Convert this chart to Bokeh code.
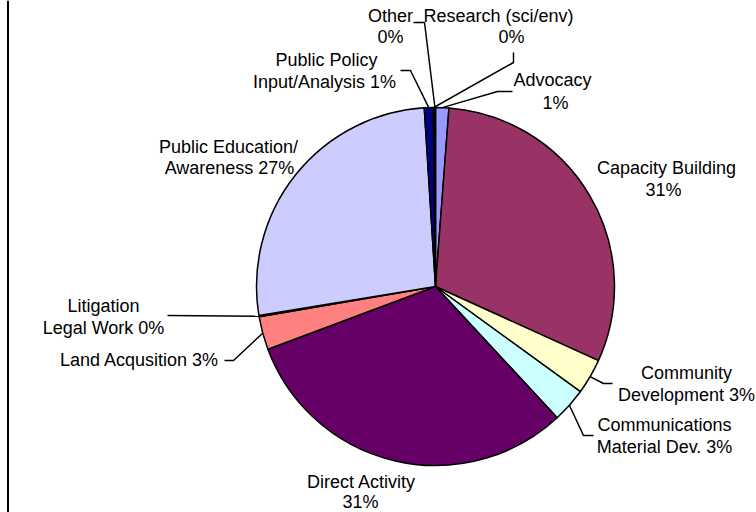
import math
from bokeh.plotting import figure
from bokeh.models import Range1d, ColumnDataSource
from bokeh.core.properties import value
from bokeh.embed import file_html
from bokeh.resources import INLINE

# ---- data ----
categories = ["Advocacy", "Capacity Building", "Community Development",
              "Communications Material Dev.", "Direct Activity", "Land Acqusition",
              "Litigation Legal Work", "Public Education/Awareness",
              "Public Policy Input/Analysis", "Research (sci/env)", "Other"]
shares = [1.2, 30.6, 3.2, 3.1, 31.2, 3.0, 0.1, 26.6, 0.8, 0.1, 0.1]
colors = ["#9999FF", "#993366", "#FFFFCC", "#CCFFFF", "#660066", "#FF8080",
          "#0066CC", "#CCCCFF", "#000080", "#FF00FF", "#FFFF00"]
# label line breaks; percentage appended to the last line
label_lines = [["Advocacy", ""], ["Capacity Building", ""], ["Community", "Development "],
               ["Communications", "Material Dev. "], ["Direct Activity", ""],
               ["Land Acqusition "], ["Litigation", "Legal Work "],
               ["Public Education/", "Awareness "], ["Public Policy", "Input/Analysis "],
               ["Research (sci/env)", ""], ["Other", ""]]

# ---- layout (pixels in plot space, y up) ----
W, H = 756, 512
CX, CY, R = 435, 226, 179
FONT = value("Liberation Sans")
FSIZE = "18px"
TEXT_DY = 6.5
# per-line text anchors (baseline positions)
text_pos = [[(552, 426), (555, 403)], [(666, 338), (663, 316)],
            [(686, 133), (686, 111)], [(664, 81), (664, 59)],
            [(361, 24), (360, 4)], [(139, 146)], [(103, 200), (103, 178)],
            [(228, 359), (229, 338)], [(326, 446), (324, 424)],
            [(498, 490), (511, 469)], [(390, 490), (390, 469)]]
# leader line elbows (outer points) per slice; None = no leader
leaders = [[(512, 421), (497, 421)], None, [(612, 129), (603, 129)],
           [(593, 77), (583, 77)], None, [(224, 152), (233, 152)],
           [(167, 197)], None, [(400, 442), (410, 442)],
           [(513, 460), (513, 450)], [(413, 490), (424, 490)]]

total = sum(shares)
starts, ends, mids = [], [], []
cum = 0.0
for v in shares:
    a0 = math.pi / 2 - 2 * math.pi * cum / total
    cum += v
    a1 = math.pi / 2 - 2 * math.pi * cum / total
    starts.append(a0)
    ends.append(a1)
    mids.append((a0 + a1) / 2)
pcts = [f"{v / total * 100:.0f}%" for v in shares]

p = figure(width=W, height=H, output_backend="svg", toolbar_location=None,
           x_range=Range1d(0, W), y_range=Range1d(0, H), min_border=0)
p.axis.visible = False
p.grid.visible = False
p.outline_line_color = None
p.background_fill_color = "white"

src = ColumnDataSource(dict(start=starts, end=ends, color=colors, cat=categories))
p.wedge(x=CX, y=CY, radius=R, start_angle="start", end_angle="end",
        direction="clock", fill_color="color", line_color="black",
        line_width=1.5, source=src)

# leader lines
xs, ys = [], []
for i, pts in enumerate(leaders):
    if pts is None:
        continue
    rx = CX + R * math.cos(mids[i])
    ry = CY + R * math.sin(mids[i])
    xs.append([q[0] for q in pts] + [rx])
    ys.append([q[1] for q in pts] + [ry])
p.multi_line(xs=xs, ys=ys, line_color="black", line_width=1.5)

# labels
tx, ty, tt = [], [], []
for i, lines in enumerate(label_lines):
    texts = list(lines)
    if len(texts) == 1:
        texts[0] = texts[0] + pcts[i]
    else:
        texts[1] = texts[1] + pcts[i]
    for (x, y), t in zip(text_pos[i], texts):
        tx.append(x)
        ty.append(y + TEXT_DY)
        tt.append(t)
p.text(x=tx, y=ty, text=tt, text_align="center", text_baseline="alphabetic",
       text_font=FONT, text_font_size=FSIZE, text_color="black")

# left frame line
p.segment(x0=[7.5], y0=[0], x1=[7.5], y1=[H], line_color="black", line_width=2)

open("out.html", "w").write(file_html(p, INLINE))
